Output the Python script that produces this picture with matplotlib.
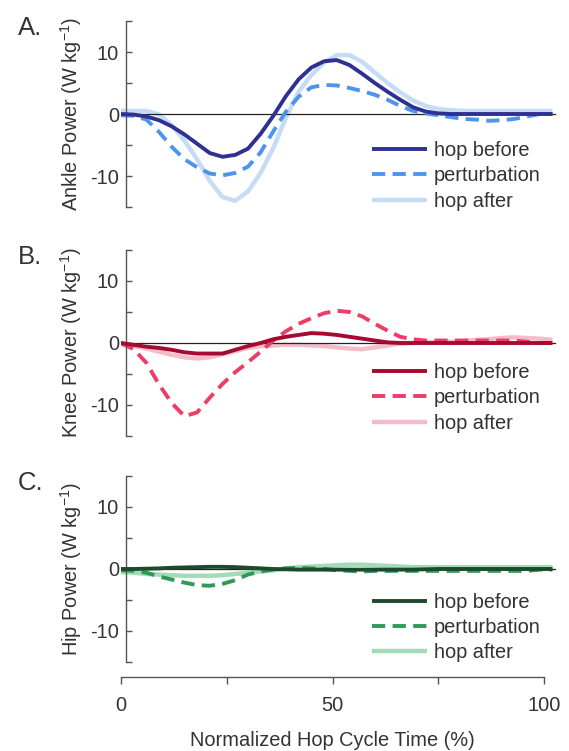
import matplotlib
matplotlib.use('Agg')
import matplotlib.pyplot as plt

# Helvetica-like font, plain hyphen for negative tick labels
plt.rcParams['font.family'] = ['Liberation Sans', 'DejaVu Sans']
plt.rcParams['axes.unicode_minus'] = False
plt.rcParams['mathtext.default'] = 'regular'

# normalized hop cycle time (%)
x = [0, 3, 6, 9, 12, 15, 18, 21, 24, 27, 30, 33, 36, 39, 42, 45, 48, 51,
     54, 57, 60, 63, 66, 69, 72, 75, 78, 81, 84, 87, 90, 93, 96, 99, 102]

# ankle power (W/kg)
ankle_before = [0, -0.1, -0.4, -1.0, -2.0, -3.3, -4.8, -6.3, -6.9, -6.6, -5.6, -3.2,
                -0.3, 2.9, 5.6, 7.5, 8.5, 8.7, 7.9, 6.5, 5.0, 3.6, 2.3, 1.1, 0.4, 0.1,
                0, 0, 0, 0, 0, 0, 0, 0, 0]
ankle_pert = [-0.2, -0.3, -0.9, -2.9, -5.3, -7.3, -8.6, -9.6, -9.9, -9.5, -8.5, -6.2,
              -2.8, 0.4, 2.8, 4.3, 4.7, 4.6, 4.2, 3.7, 3.1, 2.3, 1.3, 0.5, 0.1, -0.2,
              -0.5, -0.8, -0.9, -1.1, -1.0, -0.8, -0.4, 0, 0]
ankle_after = [0.5, 0.5, 0.5, -0.1, -1.8, -4.3, -7.3, -10.8, -13.4, -14.0, -12.5, -9.5,
               -5.5, -0.6, 3.6, 6.3, 8.3, 9.5, 9.5, 8.4, 6.7, 5.0, 3.5, 2.2, 1.3, 0.8,
               0.6, 0.5, 0.5, 0.5, 0.5, 0.5, 0.5, 0.5, 0.5]

# knee power (W/kg)
knee_before = [0, -0.3, -0.6, -0.8, -1.1, -1.5, -1.7, -1.7, -1.7, -1.1, -0.5, 0.0,
               0.6, 1.0, 1.3, 1.6, 1.5, 1.3, 1.0, 0.7, 0.4, 0.1, 0, 0, 0, 0,
               0, 0, 0, 0, 0, 0, 0, 0, 0]
knee_pert = [0, -1.0, -3.2, -6.7, -9.7, -11.8, -11.2, -8.8, -6.6, -4.7, -3.1, -1.4,
             0.4, 1.9, 3.1, 4.0, 4.8, 5.2, 5.0, 4.3, 3.1, 2.0, 1.0, 0.6, 0.4, 0.4,
             0.4, 0.4, 0.4, 0.4, 0.4, 0.4, 0.2, 0, 0]
knee_after = [-0.2, -0.5, -0.9, -1.4, -1.9, -2.3, -2.5, -2.3, -1.8, -1.3, -0.8, -0.5,
              -0.4, -0.3, -0.3, -0.4, -0.5, -0.7, -0.9, -1.0, -0.7, -0.4, -0.1, 0.0,
              0.1, 0.1, 0.2, 0.3, 0.5, 0.6, 0.8, 0.9, 0.8, 0.7, 0.5]

# hip power (W/kg)
hip_before = [0, 0, 0.05, 0.1, 0.2, 0.25, 0.3, 0.35, 0.35, 0.3, 0.2, 0.1,
              0, -0.05, -0.1, -0.1, -0.1, -0.1, -0.1, -0.1, -0.1, -0.1, -0.1, -0.1,
              -0.05, 0, 0, 0, 0, 0, 0, 0, 0, 0, 0]
hip_pert = [-0.2, -0.3, -0.6, -1.2, -1.7, -2.2, -2.6, -2.7, -2.4, -1.8, -0.9, -0.4,
            -0.1, 0.1, 0.2, 0.1, 0, -0.2, -0.3, -0.4, -0.3, -0.3, -0.3, -0.3,
            -0.3, -0.3, -0.3, -0.3, -0.3, -0.3, -0.3, -0.3, -0.3, -0.1, -0.1]
hip_after = [-0.5, -0.6, -0.8, -0.9, -1.0, -1.1, -1.1, -1.1, -1.0, -0.8, -0.6, -0.4,
             -0.2, 0.1, 0.3, 0.4, 0.5, 0.6, 0.7, 0.7, 0.6, 0.5, 0.4, 0.3,
             0.3, 0.3, 0.3, 0.3, 0.3, 0.3, 0.3, 0.3, 0.3, 0.3, 0.3]

series_names = ["hop before", "perturbation", "hop after"]
panel_letters = ["A.", "B.", "C."]
panel_ylabels = ["Ankle Power (W kg$^{-1}$)", "Knee Power (W kg$^{-1}$)",
                 "Hip Power (W kg$^{-1}$)"]
panel_data = [[ankle_before, ankle_pert, ankle_after],
              [knee_before, knee_pert, knee_after],
              [hip_before, hip_pert, hip_after]]
panel_colors = [['#2e3192', '#4d94ee', '#c6dcf6'],
                ['#a50a30', '#ed3d66', '#f4bcc9'],
                ['#1d4a2a', '#2e9a58', '#a3dbb8']]

y_ticks = [-15, -10, -5, 0, 5, 10, 15]
y_ticklabels = ['', '-10', '', '0', '', '10', '']
x_ticks = [0, 25, 50, 75, 100]
x_ticklabels = ['0', '', '50', '', '100']

TEXT = '#333333'
AXIS = '#555555'
FS = 14.4

# figure in pixel units
W, H = 569, 751
fig = plt.figure(figsize=(W / 100, H / 100), dpi=100)

panel_tops = [21, 250, 476]
panel_h = 186
legend_y = [0.355, 0.394, 0.373]

for i in range(3):
    top = panel_tops[i]
    ax = fig.add_axes([121 / W, 1 - (top + panel_h) / H, 435.7 / W, panel_h / H])
    ax.patch.set_visible(False)
    ax.set_xlim(0, 103)
    ax.set_ylim(-15, 15)

    before, pert, after = panel_data[i]
    c_before, c_pert, c_after = panel_colors[i]
    ax.plot(x, after, color=c_after, lw=3.2, zorder=1, label=series_names[2],
            solid_capstyle='butt')
    ax.axhline(0, xmin=0, xmax=0.995, color='#222222', lw=0.9, zorder=1.5)
    ax.plot(x, pert, color=c_pert, lw=2.8, ls=(0, (3.4, 1.9)), zorder=2,
            label=series_names[1])
    ax.plot(x, before, color=c_before, lw=2.8, zorder=3, label=series_names[0],
            solid_capstyle='butt')

    for s in ['top', 'right', 'bottom']:
        ax.spines[s].set_visible(False)
    ax.spines['left'].set_position(('data', 1.2))
    ax.spines['left'].set_color(AXIS)
    ax.spines['left'].set_linewidth(1.0)
    ax.set_xticks([])
    ax.set_yticks(y_ticks)
    ax.set_yticklabels(y_ticklabels)
    ax.tick_params(axis='y', direction='in', length=4, width=1.0, color=AXIS,
                   labelcolor=TEXT, labelsize=FS, pad=5)

    # legend order: before, perturbation, after
    handles, labels = ax.get_legend_handles_labels()
    order = [2, 1, 0]
    ax.legend([handles[k] for k in order], [labels[k] for k in order],
              loc='upper left', bbox_to_anchor=(0.575, legend_y[i]), frameon=False,
              fontsize=FS, labelcolor=TEXT, handlelength=2.75, handletextpad=0.35,
              labelspacing=0.32, borderpad=0, borderaxespad=0)

    fig.text(18 / W, 1 - (top + 7) / H, panel_letters[i], fontsize=18.5,
             color=TEXT, ha='left', va='center')
    fig.text(71 / W, 1 - (top + panel_h / 2) / H, panel_ylabels[i], fontsize=FS,
             color=TEXT, rotation=90, ha='center', va='center')

# shared time axis at the bottom
bx = fig.add_axes([121 / W, 1 - 677 / H, 423 / W, 0.0001])
bx.patch.set_visible(False)
bx.set_xlim(0, 100)
bx.set_yticks([])
for s in ['top', 'right', 'left']:
    bx.spines[s].set_visible(False)
bx.spines['bottom'].set_color(AXIS)
bx.spines['bottom'].set_linewidth(1.0)
bx.set_xticks(x_ticks)
bx.set_xticklabels(x_ticklabels)
bx.tick_params(axis='x', direction='out', length=5, width=1.0, color=AXIS,
               labelcolor=TEXT, labelsize=FS, pad=9)

fig.text(332.5 / W, 1 - 740 / H, "Normalized Hop Cycle Time (%)", fontsize=FS,
         color=TEXT, ha='center', va='center')

plt.savefig("out.png", dpi=100)
